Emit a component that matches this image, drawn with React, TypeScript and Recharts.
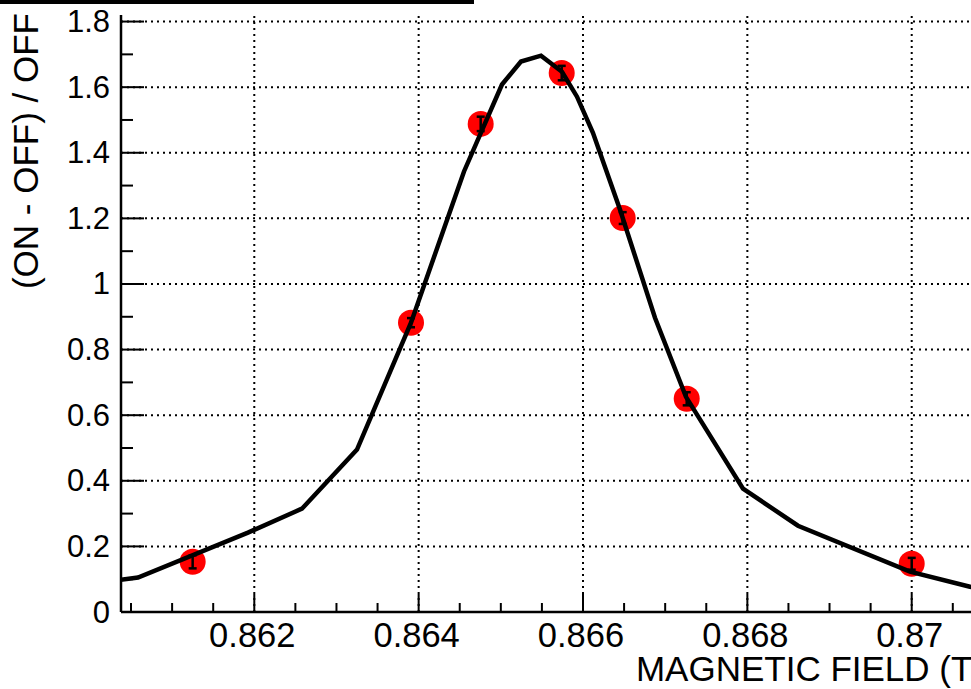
import { ComposedChart, Line, Scatter, ErrorBar, XAxis, YAxis, ReferenceLine } from 'recharts';

// measured points (red) with small errors
const pointX = [0.86125, 0.863907, 0.864755, 0.865741, 0.866483, 0.867262, 0.87];
const pointY = [0.153, 0.882, 1.488, 1.643, 1.201, 0.65, 0.147];
const pointErr = [0.02, 0.014, 0.022, 0.022, 0.018, 0.02, 0.018];

// theory curve (polyline)
const curveX = [
  0.860366, 0.860585, 0.861923, 0.86258, 0.86325, 0.863907, 0.864552, 0.865014, 0.865245, 0.865489,
  0.865744, 0.865927, 0.866121, 0.86645, 0.866876, 0.867253, 0.867947, 0.868616, 0.869979, 0.870709, 0.871074,
];
const curveY = [
  0.098, 0.105, 0.242, 0.315, 0.495, 0.882, 1.343, 1.608, 1.678, 1.696,
  1.647, 1.571, 1.461, 1.227, 0.897, 0.656, 0.376, 0.263, 0.123, 0.077, 0.053,
];

const xMajor = [0.862, 0.864, 0.866, 0.868, 0.87];
const xMajorLabels = ['0.862', '0.864', '0.866', '0.868', '0.87'];
const xTicks = [
  0.8605, 0.861, 0.8615, 0.862, 0.8625, 0.863, 0.8635, 0.864, 0.8645, 0.865, 0.8655,
  0.866, 0.8665, 0.867, 0.8675, 0.868, 0.8685, 0.869, 0.8695, 0.87, 0.8705,
];
const yMajor = [0, 0.2, 0.4, 0.6, 0.8, 1, 1.2, 1.4, 1.6, 1.8];
const yMajorLabels = ['0', '0.2', '0.4', '0.6', '0.8', '1', '1.2', '1.4', '1.6', '1.8'];
const yTicks = [
  0, 0.1, 0.2, 0.3, 0.4, 0.5, 0.6, 0.7, 0.8, 0.9, 1, 1.1, 1.2, 1.3, 1.4, 1.5, 1.6, 1.7, 1.8,
];

const points = pointX.map((x, i) => ({ x, y: pointY[i], err: pointErr[i] }));
const curve = curveX.map((x, i) => ({ x, y: curveY[i] }));

const FONT = '"Liberation Sans", Arial, Helvetica, sans-serif';

function BottomTick(props: any) {
  const { x, y, payload } = props;
  const idx = xMajor.indexOf(payload.value);
  const major = idx >= 0;
  return (
    <g>
      <line x1={x} y1={y} x2={x} y2={y - (major ? 18 : 9)} stroke="#000" strokeWidth={2} />
      {major && (
        <text x={x - 2} y={y + 35} textAnchor="middle" fontSize={34.5} fontFamily={FONT} fill="#000">
          {xMajorLabels[idx]}
        </text>
      )}
    </g>
  );
}

function TopTick(props: any) {
  const { x, y, payload } = props;
  const major = xMajor.indexOf(payload.value) >= 0;
  return <line x1={x} y1={y} x2={x} y2={y + (major ? 18 : 9)} stroke="#000" strokeWidth={2} />;
}

function LeftTick(props: any) {
  const { x, y, payload } = props;
  const idx = yMajor.indexOf(payload.value);
  const major = idx >= 0;
  return (
    <g>
      <line x1={x} y1={y} x2={x + (major ? 23 : 12)} y2={y} stroke="#000" strokeWidth={2} />
      {major && (
        <text x={x - 11} y={y} textAnchor="end" dominantBaseline="central" fontSize={31} fontFamily={FONT} fill="#000">
          {yMajorLabels[idx]}
        </text>
      )}
    </g>
  );
}

export default function App() {
  return (
    <div style={{ position: 'absolute', left: 0, top: 0, width: 971, height: 689, overflow: 'hidden', background: '#fff', fontFamily: FONT }}>
      <div style={{ position: 'absolute', left: -10, top: -50, width: 484, height: 54, border: '4px solid #000', boxSizing: 'border-box', background: '#fff' }} />
      <ComposedChart width={1000} height={689} margin={{ top: 15, left: 41, right: 20, bottom: 47 }}>
        <XAxis
          xAxisId="bottom"
          dataKey="x"
          type="number"
          domain={[0.860378, 0.870831]}
          allowDataOverflow
          ticks={xTicks}
          interval={0}
          tickSize={0}
          tickMargin={0}
          tickLine={false}
          tick={<BottomTick />}
          axisLine={{ stroke: '#000', strokeWidth: 2.5 }}
          height={30}
          label={{
            content: () => (
              <text x={984} y={681} textAnchor="end" fontSize={35} fontFamily={FONT} fill="#000">
                MAGNETIC FIELD (T)
              </text>
            ),
          }}
        />
        <XAxis
          xAxisId="top"
          orientation="top"
          dataKey="x"
          type="number"
          domain={[0.860378, 0.870831]}
          allowDataOverflow
          ticks={xTicks}
          interval={0}
          tickSize={0}
          tickMargin={0}
          tickLine={false}
          tick={<TopTick />}
          axisLine={{ stroke: '#000', strokeWidth: 2.5 }}
          height={0}
        />
        <YAxis
          yAxisId="left"
          type="number"
          domain={[0, 1.82]}
          allowDataOverflow
          ticks={yTicks}
          interval={0}
          tickSize={0}
          tickMargin={0}
          tickLine={false}
          tick={<LeftTick />}
          axisLine={{ stroke: '#000', strokeWidth: 2.5 }}
          width={80}
          label={{
            content: () => (
              <text transform="translate(37.5,13) rotate(-90)" textAnchor="end" fontSize={35} fontFamily={FONT} fill="#000">
                (ON - OFF) / OFF
              </text>
            ),
          }}
        />
        {xMajor.map((v) => (
          <ReferenceLine key={'gx' + v} x={v} xAxisId="bottom" yAxisId="left" stroke="#000" strokeWidth={2} strokeDasharray="2 4" />
        ))}
        {yMajor.slice(1).map((v) => (
          <ReferenceLine key={'gy' + v} y={v} xAxisId="bottom" yAxisId="left" stroke="#000" strokeWidth={2} strokeDasharray="2 4" />
        ))}
        <Scatter
          data={points}
          dataKey="y"
          xAxisId="bottom"
          yAxisId="left"
          isAnimationActive={false}
          zIndex={500}
          shape={(p: any) => <circle cx={p.cx} cy={p.cy} r={13} fill="#ff0000" />}
        />
        <Line
          data={curve}
          dataKey="y"
          xAxisId="bottom"
          yAxisId="left"
          type="linear"
          stroke="#000"
          strokeWidth={4.5}
          dot={false}
          activeDot={false}
          isAnimationActive={false}
          zIndex={700}
        />
        <Scatter
          data={points}
          dataKey="y"
          xAxisId="bottom"
          yAxisId="left"
          isAnimationActive={false}
          zIndex={800}
          shape={() => <g />}
        >
          <ErrorBar dataKey="err" direction="y" width={4} stroke="#000" strokeWidth={2.5} isAnimationActive={false} zIndex={900} />
        </Scatter>
      </ComposedChart>
    </div>
  );
}
